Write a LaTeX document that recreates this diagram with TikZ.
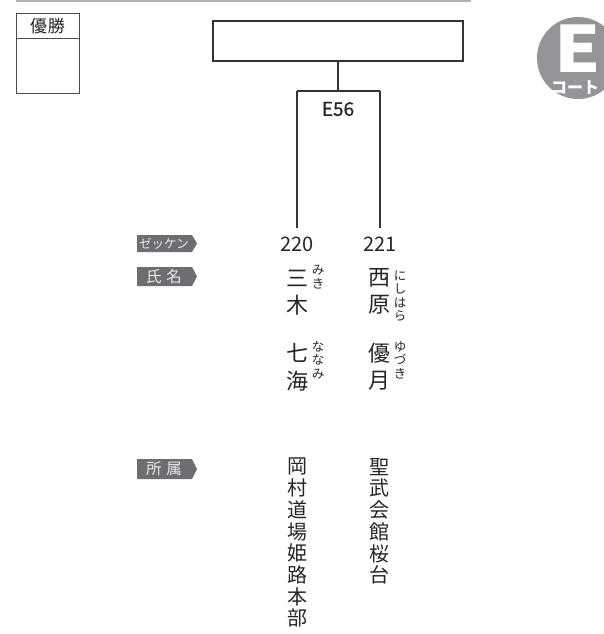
\documentclass[tikz,border=0pt]{standalone}
\usepackage{fontspec}
\usepackage{graphicx}
\setmainfont{Noto Sans CJK JP}
\newfontfamily\jp{Noto Sans CJK JP}
\newfontfamily\jpsemi{Noto Sans CJK JP}[FakeBold=0.7]
\begin{document}
\begin{tikzpicture}[x=1pt,y=-1pt,
  boxline/.style={draw=black!80,line width=1.3pt},
  tagtext/.style={text=white!92!black,font=\jp\fontsize{12.5}{12.5}\selectfont,inner sep=0pt},
  numtext/.style={font=\jp\fontsize{20}{20}\selectfont,text=black!85,inner sep=0pt},
  namechar/.style={font=\jp\fontsize{22}{27}\selectfont,text=black!85,inner sep=0pt,align=center},
  rubytext/.style={font=\jp\fontsize{12.5}{13.5}\selectfont,text=black!85,inner sep=0pt,align=center},
  affil/.style={font=\jp\fontsize{20}{21.7}\selectfont,text=black!85,inner sep=0pt,align=center,anchor=north},
]
\definecolor{tagc}{HTML}{6D6E71}
\definecolor{circc}{HTML}{939598}
\useasboundingbox (0,0) rectangle (604,634);

% top gray rule
\coordinate (ruleL) at (16,1);
\coordinate (ruleR) at (471,1);
\draw[line width=1.6pt,draw=black!30] (ruleL) -- (ruleR);

% winner box
\draw[draw=black!70,line width=0.9pt] (16,13) rectangle (79,93);
\draw[draw=black!70,line width=0.9pt] (16,38) -- (79,38);
\node[font=\jp\fontsize{17}{17}\selectfont,text=black!85,inner sep=0pt] (win) at (47.5,26) {優\hspace{0.05em}勝};

% top result box
\node[boxline,minimum width=250pt,minimum height=40pt,inner sep=0pt] (final) at (338,41) {};
\coordinate (split) at (338,91);
\coordinate (sL) at (297,91);
\coordinate (sR) at (380,91);
\node[font=\jpsemi\fontsize{19}{19}\selectfont,text=black!85,inner sep=0pt] (match) at (338,109) {E56};

% numbers
\node[numtext] (n220) at (297,244.5) {220};
\node[numtext] (n221) at (380,244.5) {221};

\draw[boxline] (final.south) -- (split);
\draw[boxline] (sL) -- (sR);
\draw[boxline] (sL) -- (297,228) coordinate (eL);
\draw[boxline] (sR) -- (380,228) coordinate (eR);

% E court badge
\fill[circc] (578,58) circle (41);
\node[font=\jp\bfseries\fontsize{64}{64}\selectfont,text=white,inner sep=0pt,anchor=base,text depth=0pt] (courtE) at (578,72) {\scalebox{1.15}[1]{E}};
\node[font=\jp\bfseries\fontsize{16}{16}\selectfont,text=white,inner sep=0pt,anchor=west] (courtT) at (551,87) {コート};

% tags
\fill[tagc] (137,235) -- (192,235) -- (197,243.5) -- (192,252) -- (137,252) -- cycle;
\node[tagtext] (t1) at (164,243.5) {ゼッケン};
\fill[tagc] (137,267) -- (192,267) -- (197,276.5) -- (192,286) -- (137,286) -- cycle;
\node[tagtext,font=\jp\fontsize{15.5}{15.5}\selectfont] (t2) at (164,276.5) {氏\hspace{0.3em}名};
\fill[tagc] (137,459) -- (192,459) -- (197,469) -- (192,479) -- (137,479) -- cycle;
\node[tagtext,font=\jp\fontsize{15.5}{15.5}\selectfont] (t3) at (164,469) {所\hspace{0.3em}属};

% names
\node[namechar] (a1) at (297,278) {三};
\node[namechar] (a2) at (297,305) {木};
\node[rubytext] (ar1) at (318,277) {み\\き};
\node[namechar] (a3) at (297,353) {七};
\node[namechar] (a4) at (297,381) {海};
\node[rubytext] (ar2) at (318,360) {な\\な\\み};

\node[namechar] (b1) at (379,278) {西};
\node[namechar] (b2) at (379,305) {原};
\node[rubytext] (br1) at (400,296) {に\\し\\は\\ら};
\node[namechar] (b3) at (379,353) {優};
\node[namechar] (b4) at (379,381) {月};
\node[rubytext] (br2) at (400,360) {ゆ\\づ\\き};

% affiliations
\node[affil] (c1) at (297,458) {岡\\村\\道\\場\\姫\\路\\本\\部};
\node[affil] (c2) at (379,458) {聖\\武\\会\\館\\桜\\台};
\end{tikzpicture}
\end{document}
